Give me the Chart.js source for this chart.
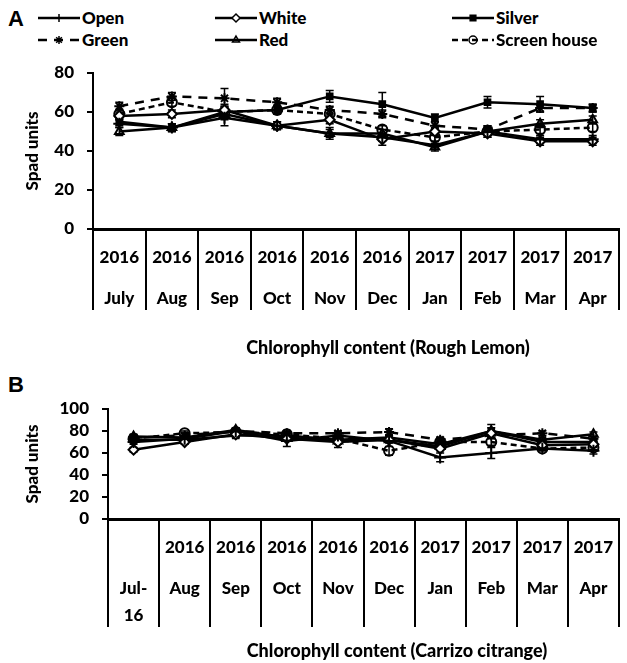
<!DOCTYPE html>
<html>
<head>
<meta charset="utf-8">
<script src="https://cdn.jsdelivr.net/npm/chart.js@4.4.1/dist/chart.umd.min.js"></script>
<style>
  body { margin: 0; background: #fff; }
  #wrap { position: relative; width: 627px; height: 663px; font-family: Lato, sans-serif; font-weight: 900; color: #000; }
  canvas.chart { position: absolute; left: 0; }
  .panel { position: absolute; left: 8px; font-family: "Liberation Sans", sans-serif; font-weight: bold; font-size: 22px; line-height: 22px; }
  .xtitle { position: absolute; font-size: 18px; line-height: 20px; white-space: nowrap; transform: translateX(-50%); }
  .leg { position: absolute; display: flex; align-items: center; font-size: 17px; line-height: 20px; white-space: nowrap; }
  .leg canvas { margin-right: 2px; }
</style>
</head>
<body>
<div id="wrap">
  <div class="panel" style="top:8px">A</div>
  <div id="legend"></div>
  <canvas class="chart" id="chartA" width="627" height="365" style="top:0"></canvas>
  <div class="xtitle" style="left:388px; top:337px">Chlorophyll content (Rough Lemon)</div>
  <div class="panel" style="top:374px">B</div>
  <canvas class="chart" id="chartB" width="627" height="293" style="top:370px"></canvas>
  <div class="xtitle" style="left:397px; top:640px">Chlorophyll content (Carrizo citrange)</div>
</div>
<script>
// tick labels
const yearsA = ['2016', '2016', '2016', '2016', '2016', '2016', '2017', '2017', '2017', '2017'];
const monthsA = ['July', 'Aug', 'Sep', 'Oct', 'Nov', 'Dec', 'Jan', 'Feb', 'Mar', 'Apr'];
const yearsB = ['', '2016', '2016', '2016', '2016', '2016', '2017', '2017', '2017', '2017'];
const monthsB = ['Jul-16', 'Aug', 'Sep', 'Oct', 'Nov', 'Dec', 'Jan', 'Feb', 'Mar', 'Apr'];

const seriesNames = ['Open', 'White', 'Silver', 'Green', 'Red', 'Screen house'];

// Rough Lemon (A)
const openA   = [54, 52, 57, 53, 49, 47, 43, 50, 46, 46];
const whiteA  = [58, 59, 61, 53, 56, 46, 50, 49, 45, 45];
const silverA = [55, 52, 60, 61, 68, 64, 57, 65, 64, 62];
const greenA  = [63, 68, 67, 65, 61, 59, 53, 51, 62, 62];
const redA    = [50, 52, 59, 53, 49, 49, 42, 50, 54, 56];
const screenA = [59, 65, 60, 61, 59, 51, 47, 50, 51, 52];
const errOpenA   = [2, 2, 4, 2, 2, 2, 2, 2, 2, 2];
const errWhiteA  = [2, 2, 3, 2, 2, 3, 2, 2, 2, 2];
const errSilverA = [2, 2, 3, 2, 3, 6, 2, 3, 4, 2];
const errGreenA  = [2, 2, 5, 2, 2, 2, 2, 2, 2, 2];
const errRedA    = [2, 2, 3, 2, 3, 2, 2, 3, 2, 2];
const errScreenA = [2, 2, 3, 2, 2, 2, 2, 2, 2, 2];

// Carrizo citrange (B)
const openB   = [70, 73, 80, 71, 76, 71, 56, 60, 64, 62];
const whiteB  = [63, 70, 77, 73, 70, 72, 64, 78, 67, 68];
const silverB = [72, 72, 76, 76, 72, 74, 68, 80, 70, 70];
const greenB  = [74, 76, 80, 78, 78, 79, 72, 76, 78, 73];
const redB    = [75, 74, 81, 74, 71, 72, 66, 80, 72, 77];
const screenB = [73, 78, 79, 77, 73, 62, 70, 70, 64, 65];
const errOpenB   = [2, 2, 2, 5, 2, 2, 4, 5, 2, 3];
const errWhiteB  = [2, 2, 2, 2, 2, 2, 2, 2, 2, 2];
const errSilverB = [2, 2, 2, 3, 7, 2, 2, 3, 2, 2];
const errGreenB  = [2, 2, 2, 2, 2, 3, 2, 2, 2, 2];
const errRedB    = [2, 2, 2, 2, 2, 2, 2, 6, 2, 2];
const errScreenB = [2, 2, 2, 2, 2, 4, 2, 3, 2, 2];

const FONT = 'Lato, sans-serif';

// marker + line style per series
const styles = [
  { pointStyle: 'cross',    radius: 6, fill: '#000', dash: [] },
  { pointStyle: 'rectRot',  radius: 5, fill: '#fff', dash: [] },
  { pointStyle: 'rect',     radius: 4, fill: '#000', dash: [] },
  { pointStyle: 'star',     radius: 5, fill: '#000', dash: [9, 7] },
  { pointStyle: 'triangle', radius: 5, fill: 'rgba(0,0,0,0)', dash: [] },
  { pointStyle: 'circle',   radius: 5, fill: 'rgba(0,0,0,0)', dash: [6, 4] },
];

function makeDatasets(values, errors) {
  return values.map((vals, i) => ({
    label: seriesNames[i],
    data: vals,
    errors: errors[i],
    borderColor: '#000',
    borderWidth: 2.5,
    borderDash: styles[i].dash,
    pointStyle: styles[i].pointStyle,
    pointRadius: styles[i].radius,
    pointBorderWidth: 2,
    pointBorderColor: '#000',
    pointBackgroundColor: styles[i].fill,
    fill: false,
    tension: 0,
  }));
}

function tickLines(year, month) {
  const parts = month.split('-');
  const lines = [year, '', ''];
  if (parts.length > 1) {
    lines.push(parts[0] + '-', '', parts[1]);
  } else {
    lines.push(month);
  }
  return lines;
}

// error bars drawn from each dataset's errors array
const errorBars = {
  id: 'errorBars',
  beforeDatasetsDraw(chart) {
    const { ctx } = chart;
    const y = chart.scales.y;
    ctx.save();
    ctx.strokeStyle = '#000';
    ctx.lineWidth = 1.5;
    chart.data.datasets.forEach((ds, i) => {
      const meta = chart.getDatasetMeta(i);
      meta.data.forEach((pt, j) => {
        const v = ds.data[j];
        const e = ds.errors[j];
        const top = y.getPixelForValue(v + e);
        const bot = y.getPixelForValue(v - e);
        ctx.beginPath();
        ctx.moveTo(pt.x, top);
        ctx.lineTo(pt.x, bot);
        ctx.moveTo(pt.x - 4, top);
        ctx.lineTo(pt.x + 4, top);
        ctx.moveTo(pt.x - 4, bot);
        ctx.lineTo(pt.x + 4, bot);
        ctx.stroke();
      });
    });
    ctx.restore();
  }
};

function makeChart(id, labels, years, months, datasets, yMax, cfg) {
  return new Chart(document.getElementById(id).getContext('2d'), {
    type: 'line',
    data: { labels: labels, datasets: datasets },
    plugins: [errorBars],
    options: {
      responsive: false,
      animation: false,
      events: [],
      layout: { padding: { top: cfg.top, right: cfg.right, left: 0, bottom: 0 } },
      plugins: {
        legend: { display: false },
        tooltip: { enabled: false },
      },
      scales: {
        x: {
          offset: true,
          grid: {
            offset: true,
            drawOnChartArea: false,
            drawTicks: true,
            tickLength: cfg.tickLength,
            color: '#000',
            lineWidth: 2,
          },
          border: { color: '#000', width: 3 },
          ticks: {
            color: '#000',
            font: { family: FONT, size: 17, weight: '900', lineHeight: 0.804 },
            padding: 21.2 - cfg.tickLength,
            maxRotation: 0,
            autoSkip: false,
            callback: (v, i) => tickLines(years[i], months[i]),
          },
          afterFit: (s) => { s.height = cfg.xHeight; },
        },
        y: {
          min: 0,
          max: yMax,
          ticks: {
            stepSize: 20,
            autoSkip: false,
            color: '#000',
            font: { family: FONT, size: 17, weight: '900' },
            padding: 13,
          },
          grid: {
            drawOnChartArea: false,
            drawTicks: true,
            tickLength: 6,
            color: '#000',
            lineWidth: 2,
          },
          border: { color: '#000', width: 2 },
          title: {
            display: true,
            text: 'Spad units',
            color: '#000',
            font: { family: FONT, size: 17, weight: '900' },
            padding: { top: 22, bottom: 0 },
          },
          afterFit: (s) => { s.width = cfg.yWidth; },
        },
      },
    },
  });
}

const chartA = makeChart('chartA', monthsA, yearsA, monthsA,
  makeDatasets([openA, whiteA, silverA, greenA, redA, screenA],
               [errOpenA, errWhiteA, errSilverA, errGreenA, errRedA, errScreenA]),
  80, { top: 73, right: 1, tickLength: 81, xHeight: 136, yWidth: 93 });

const chartB = makeChart('chartB', monthsB, yearsB, monthsB,
  makeDatasets([openB, whiteB, silverB, greenB, redB, screenB],
               [errOpenB, errWhiteB, errSilverB, errGreenB, errRedB, errScreenB]),
  100, { top: 39, right: 2, tickLength: 108, xHeight: 144, yWidth: 108 });

// legend: line sample with marker, 3 columns x 2 rows
const legendCols = [38, 215, 452];
const legendRows = [8, 30];
const legendEl = document.getElementById('legend');
seriesNames.forEach((name, i) => {
  const item = document.createElement('div');
  item.className = 'leg';
  item.style.left = legendCols[i % 3] + 'px';
  item.style.top = legendRows[Math.floor(i / 3)] + 'px';
  const c = document.createElement('canvas');
  c.width = 42; c.height = 20;
  const ctx = c.getContext('2d');
  ctx.strokeStyle = '#000';
  ctx.fillStyle = styles[i].fill;
  ctx.lineWidth = 2.5;
  ctx.setLineDash(styles[i].dash);
  ctx.beginPath();
  ctx.moveTo(0, 10);
  ctx.lineTo(42, 10);
  ctx.stroke();
  ctx.setLineDash([]);
  ctx.lineWidth = 1.5;
  Chart.helpers.drawPoint(ctx, { pointStyle: styles[i].pointStyle, radius: 4, rotation: 0, borderWidth: 1.5 }, 21, 10);
  item.appendChild(c);
  const t = document.createElement('span');
  t.textContent = name;
  item.appendChild(t);
  legendEl.appendChild(item);
});
</script>
</body>
</html>
